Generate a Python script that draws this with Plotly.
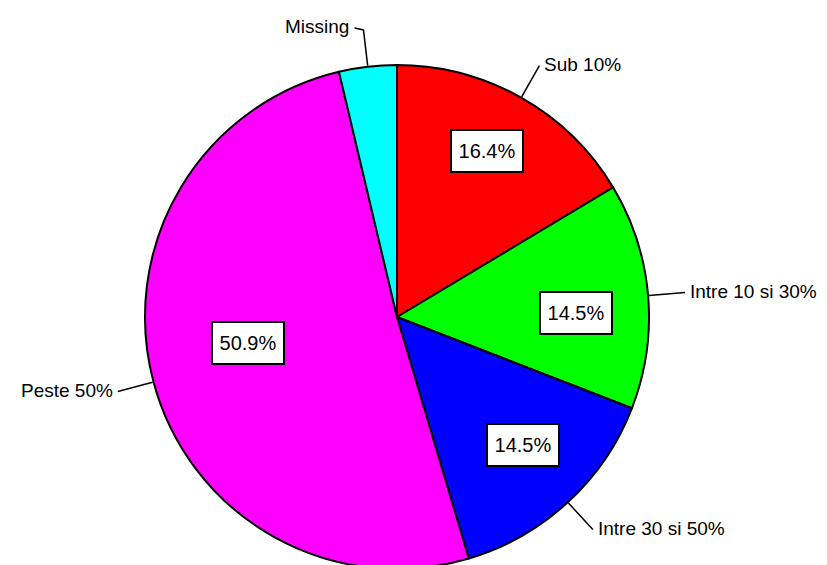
"""Pie chart: share of respondents by category, with boxed percentages."""
import math

import plotly.graph_objects as go

categories = ["Sub 10%", "Intre 10 si 30%", "Intre 30 si 50%", "Peste 50%", "Missing"]
shares = [16.4, 14.5, 14.5, 50.9, 3.7]
show_pct = [True, True, True, True, False]
colors = ["#FF0000", "#00FF00", "#0000FF", "#FF00FF", "#00FFFF"]

W, H = 827, 565
# the page body adds an 8px offset, so target positions are shifted back by 8
MT, MB = 57, 4
PLOT_H = H - MT - MB
R = PLOT_H / 2
CX, CY = 389, MT + R
FONT = dict(family="Liberation Sans, Arial, sans-serif", size=20, color="black")
LABEL_FONT = dict(FONT, size=19)
# small pixel nudges for the percentage boxes, relative to the slice mid-angle
BOX_NUDGE = [(2, -10), (1, 11), (5, -4), (24, -20), (0, 0)]
LEADER = 37


def to_paper(px, py):
    return px / W, (H - MB - py) / PLOT_H


def polar(angle_deg, r):
    # angle measured clockwise from 12 o'clock, in pixel space
    a = math.radians(angle_deg)
    return CX + r * math.sin(a), CY - r * math.cos(a)


fig = go.Figure(
    go.Pie(
        labels=categories,
        values=shares,
        sort=False,
        direction="clockwise",
        rotation=0,
        textinfo="none",
        hoverinfo="label+percent",
        marker=dict(colors=colors, line=dict(color="black", width=2)),
        domain=dict(x=[(CX - R) / W, (CX + R) / W], y=[0, 1]),
        showlegend=False,
    )
)

total = sum(shares)
start = 0.0
for name, val, show, nudge in zip(categories, shares, show_pct, BOX_NUDGE):
    mid = (start + val / 2) / total * 360
    start += val

    # percentage box inside the slice
    if show:
        px, py = polar(mid, 0.71 * R)
        bx, by = to_paper(px + nudge[0], py + nudge[1])
        fig.add_annotation(
            x=bx, y=by, xref="paper", yref="paper",
            xanchor="center", yanchor="middle",
            text=f"{val:.1f}%", showarrow=False, font=FONT,
            width=58, height=28,
            bgcolor="white", bordercolor="black", borderwidth=2, borderpad=6,
        )

    # leader line from the rim, then the category name
    x0, y0 = polar(mid, R + 1)
    x1, y1 = polar(mid, R + LEADER)
    side = 1 if math.sin(math.radians(mid)) >= 0 else -1
    path = f"M {to_paper(x0, y0)[0]} {to_paper(x0, y0)[1]} L {to_paper(x1, y1)[0]} {to_paper(x1, y1)[1]}"
    if abs(math.sin(math.radians(mid))) < 0.3:
        x1, y1 = x1 + side * 9, y1 - 2
        path += f" L {to_paper(x1, y1)[0]} {to_paper(x1, y1)[1]}"
    fig.add_shape(type="path", path=path, xref="paper", yref="paper",
                  line=dict(color="black", width=1.5))
    tx, ty = to_paper(x1 + side * 3, y1 - 1)
    fig.add_annotation(
        x=tx, y=ty, xref="paper", yref="paper", text=name, showarrow=False,
        font=LABEL_FONT, xanchor="left" if side > 0 else "right", yanchor="middle",
    )

fig.update_layout(
    width=W, height=H,
    margin=dict(l=0, r=0, t=MT, b=MB),
    paper_bgcolor="white", plot_bgcolor="white",
)

fig.write_html("out.html")
